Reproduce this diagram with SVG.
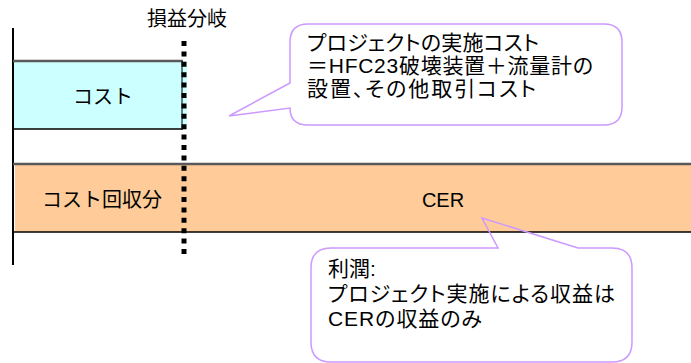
<svg xmlns="http://www.w3.org/2000/svg" width="691" height="363" viewBox="0 0 691 363">
<style>
text{font-family:"Liberation Sans","Noto Sans CJK JP",sans-serif;fill:#000;font-size:20px}
.bt{font-size:21px;font-feature-settings:"palt"}
.bubble{fill:none;stroke:#CC99FF;stroke-width:1.5}
.topline{stroke:#595959;stroke-width:2.5}
.botline{stroke:#000;stroke-width:1.5}
</style>
<rect width="691" height="363" fill="#fff"/>
<g id="axis"><line x1="13" y1="28" x2="13" y2="265" stroke="#000" stroke-width="2"/></g>
<g id="cost">
<rect x="14" y="61" width="173" height="68" fill="#CCFFFF"/>
<line class="topline" x1="13" y1="61" x2="183" y2="61"/>
<line class="botline" x1="13" y1="129" x2="183" y2="129"/>
<line x1="182" y1="61" x2="182" y2="129" stroke="#000" stroke-width="1"/>
<text x="103" y="104" text-anchor="middle">コスト</text>
</g>
<g id="cer">
<rect x="15" y="164" width="676" height="68" fill="#FFCC99"/>
<line class="topline" x1="13" y1="164" x2="691" y2="164"/>
<line class="botline" x1="13" y1="232" x2="691" y2="232"/>
<text x="102" y="207" text-anchor="middle">コスト回収分</text>
<text x="443" y="207" text-anchor="middle">CER</text>
</g>
<g id="breakeven">
<line x1="184" y1="41" x2="184" y2="258" stroke="#000" stroke-width="5" stroke-dasharray="5 5.4"/>
<text x="187" y="26" text-anchor="middle">損益分岐</text>
</g>
<g id="callout-cost">
<path class="bubble" d="M308,24 H604 Q622,24 622,42 V107 Q622,125 604,125 H308 Q290,125 290,108 L229,116 L290,83 V42 Q290,24 308,24 Z"/>
<text class="bt" x="307" y="50" textLength="232" lengthAdjust="spacing">プロジェクトの実施コスト</text>
<text class="bt" x="307" y="73" textLength="286" lengthAdjust="spacing">＝HFC23破壊装置＋流量計の</text>
<text class="bt" x="307" y="96" textLength="229" lengthAdjust="spacing">設置、その他取引コスト</text>
</g>
<g id="callout-profit">
<path class="bubble" d="M331,248 H498 L482,218 L578,248 H612 Q632,248 632,268 V342 Q632,362 612,362 H331 Q311,362 311,342 V268 Q311,248 331,248 Z"/>
<text class="bt" x="328" y="276">利潤:</text>
<text class="bt" x="328" y="301" textLength="287" lengthAdjust="spacing">プロジェクト実施による収益は</text>
<text class="bt" x="328" y="326" textLength="154" lengthAdjust="spacing">CERの収益のみ</text>
</g>
</svg>
